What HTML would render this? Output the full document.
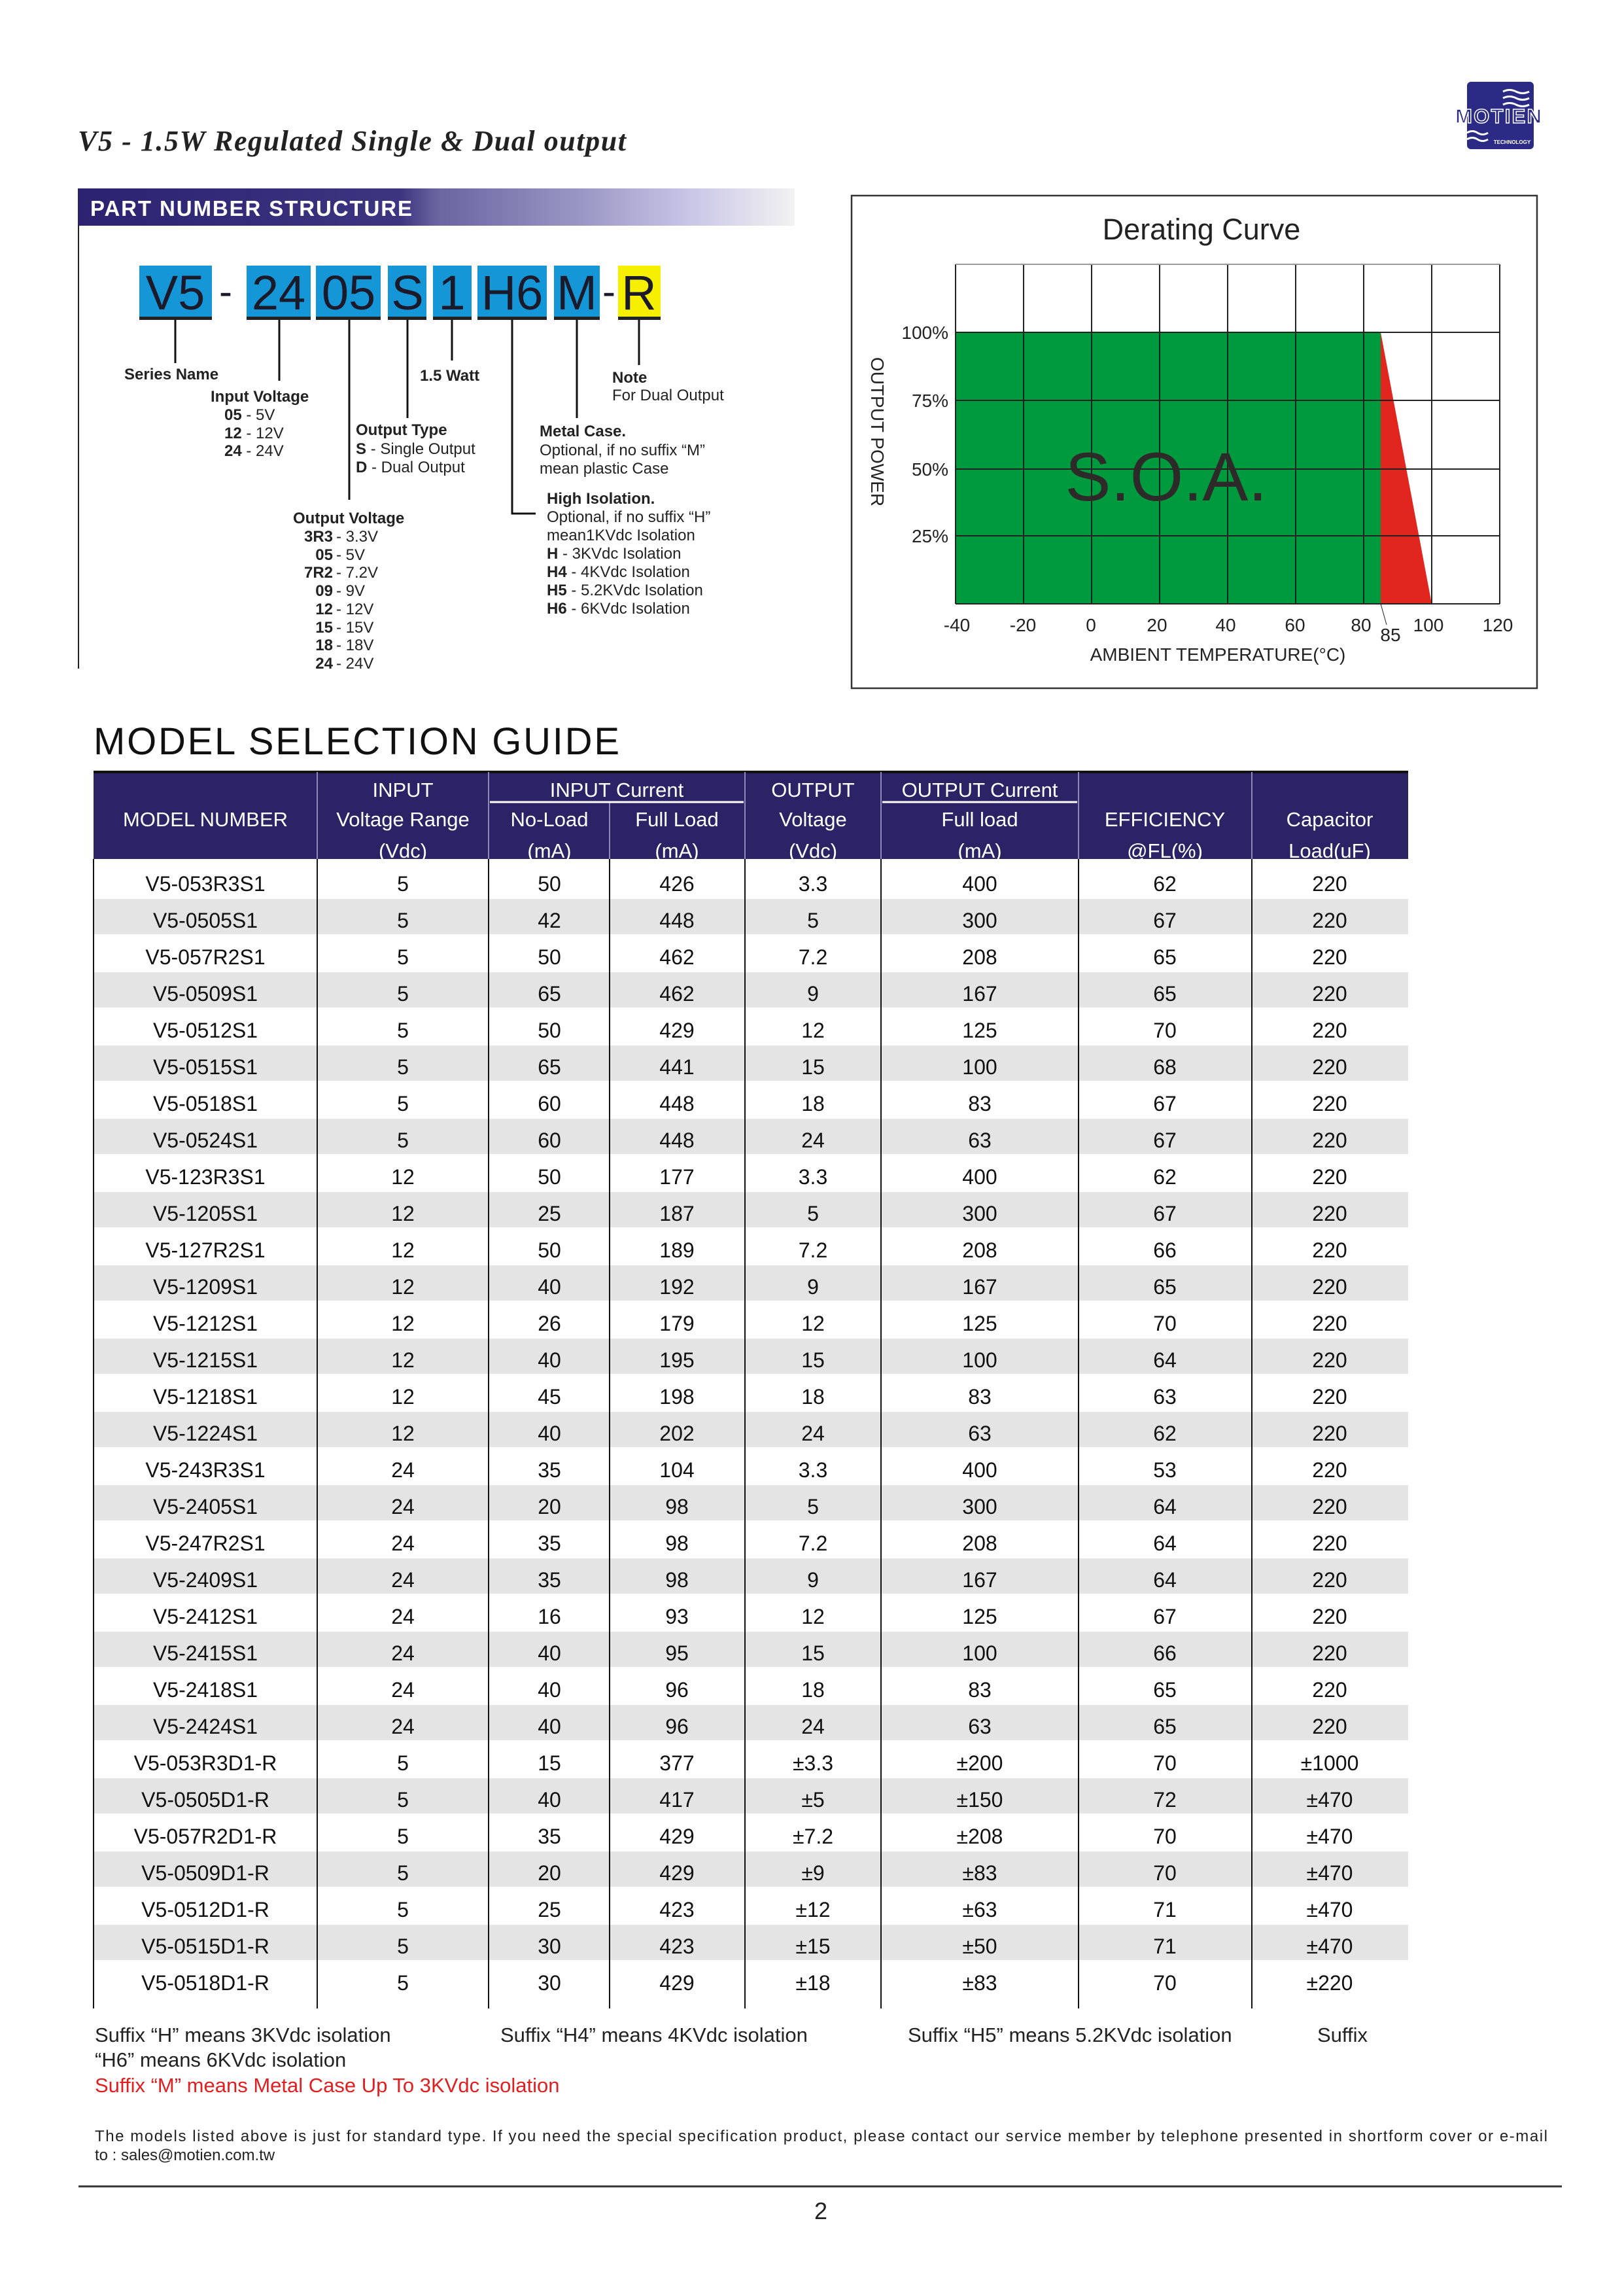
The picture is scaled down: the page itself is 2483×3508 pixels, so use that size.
<!DOCTYPE html>
<html><head><meta charset="utf-8"><style>
html,body{margin:0;padding:0;background:#fff;}
svg{display:block;}
text{font-family:"Liberation Sans",Arial,sans-serif;}
</style></head><body>
<svg width="2483" height="3508" viewBox="0 0 2483 3508" xmlns="http://www.w3.org/2000/svg">
<defs>
<linearGradient id="bn" x1="0" x2="1" y1="0" y2="0">
<stop offset="0" stop-color="#2b2370"/><stop offset="0.45" stop-color="#3d3580"/>
<stop offset="0.5" stop-color="#6a64a0"/><stop offset="0.7" stop-color="#9a96c4"/>
<stop offset="0.85" stop-color="#c8c4e6"/><stop offset="1" stop-color="#f2f2f2"/>
</linearGradient>
</defs>
<!-- title -->
<text x="119" y="230" style="font-family:'Liberation Serif',serif;font-style:italic;font-weight:bold" font-size="44" textLength="838" fill="#222">V5 - 1.5W Regulated Single &amp; Dual output</text>
<!-- logo -->
<rect x="2243" y="125" width="102" height="103" rx="6" fill="#2b2a85"/>
<path d="M2298 140 q10 -5 20 0 t20 0 M2298 150 q10 -5 20 0 t20 0 M2298 160 q10 -5 20 0 t20 0 M2243 203 q8 -5 16 0 t16 0 M2243 213 q8 -5 16 0 t16 0" stroke="#fff" stroke-width="3" fill="none"/>
<text x="2291" y="188" text-anchor="middle" font-weight="bold" font-size="31" fill="#2b2a85" stroke="#fff" stroke-width="1.5" textLength="132">MOTIEN</text>
<text x="2312" y="220" text-anchor="middle" font-weight="bold" font-size="8" fill="#fff">TECHNOLOGY</text>

<!-- banner -->
<rect x="119" y="288" width="1096" height="57" fill="url(#bn)"/>
<text x="138" y="330" font-weight="bold" font-size="33" fill="#fff" textLength="492">PART NUMBER STRUCTURE</text>
<line x1="120" y1="345" x2="120" y2="1022" stroke="#222" stroke-width="2"/>

<!-- part boxes -->
<g font-size="74" fill="#1a1a2a" text-anchor="middle">
<rect x="213" y="406" width="111" height="82" fill="#1596d6"/><rect x="213" y="484" width="111" height="5" fill="#222"/><text x="268" y="473">V5</text>
<rect x="377" y="406" width="98" height="82" fill="#1596d6"/><rect x="377" y="484" width="98" height="5" fill="#222"/><text x="426" y="473">24</text>
<rect x="483" y="406" width="99" height="82" fill="#1596d6"/><rect x="483" y="484" width="99" height="5" fill="#222"/><text x="533" y="473">05</text>
<rect x="593" y="406" width="59" height="82" fill="#1596d6"/><rect x="593" y="484" width="59" height="5" fill="#222"/><text x="623" y="473">S</text>
<rect x="662" y="406" width="59" height="82" fill="#1596d6"/><rect x="662" y="484" width="59" height="5" fill="#222"/><text x="691" y="473">1</text>
<rect x="730" y="406" width="106" height="82" fill="#1596d6"/><rect x="730" y="484" width="106" height="5" fill="#222"/><text x="783" y="473">H6</text>
<rect x="847" y="406" width="70" height="82" fill="#1596d6"/><rect x="847" y="484" width="70" height="5" fill="#222"/><text x="882" y="473">M</text>
<rect x="945" y="406" width="65" height="82" fill="#f6f000"/><rect x="945" y="484" width="65" height="5" fill="#222"/><text x="977" y="473">R</text>
<text x="345" y="466" font-size="60">-</text>
<text x="931" y="466" font-size="60">-</text>
</g>
<g stroke="#111" stroke-width="3" fill="none">
<line x1="268" y1="489" x2="268" y2="555"/>
<line x1="427" y1="489" x2="427" y2="582"/>
<line x1="534" y1="489" x2="534" y2="764"/>
<line x1="623" y1="489" x2="623" y2="639"/>
<line x1="691" y1="489" x2="691" y2="551"/>
<polyline points="783,489 783,785 819,785"/>
<line x1="882" y1="489" x2="882" y2="639"/>
<line x1="977" y1="489" x2="977" y2="558"/>
</g>
<g font-size="24" fill="#222">
<text x="190" y="580" font-weight="bold">Series Name</text>
<text x="322" y="614" font-weight="bold">Input Voltage</text>
<text x="343" y="642"><tspan font-weight="bold">05</tspan> - 5V</text>
<text x="343" y="670"><tspan font-weight="bold">12</tspan> - 12V</text>
<text x="343" y="697"><tspan font-weight="bold">24</tspan> - 24V</text>
<text x="642" y="582" font-weight="bold">1.5 Watt</text>
<text x="544" y="665" font-weight="bold">Output Type</text>
<text x="544" y="694"><tspan font-weight="bold">S</tspan> - Single Output</text>
<text x="544" y="722"><tspan font-weight="bold">D</tspan> - Dual Output</text>
<text x="936" y="585" font-weight="bold">Note</text>
<text x="936" y="612">For Dual Output</text>
<text x="825" y="667" font-weight="bold">Metal Case.</text>
<text x="825" y="696">Optional, if no suffix “M”</text>
<text x="825" y="724">mean plastic Case</text>
<text x="836" y="770" font-weight="bold">High Isolation.</text>
<text x="836" y="798">Optional,  if no suffix “H”</text>
<text x="836" y="826">mean1KVdc Isolation</text>
<text x="836" y="854"><tspan font-weight="bold">H</tspan>   - 3KVdc Isolation</text>
<text x="836" y="882"><tspan font-weight="bold">H4</tspan> - 4KVdc Isolation</text>
<text x="836" y="910"><tspan font-weight="bold">H5</tspan> - 5.2KVdc Isolation</text>
<text x="836" y="938"><tspan font-weight="bold">H6</tspan> - 6KVdc Isolation</text>
<text x="448" y="800" font-weight="bold">Output Voltage</text>
<g font-weight="bold" text-anchor="end">
<text x="509" y="828">3R3</text><text x="509" y="856">05</text><text x="509" y="883">7R2</text><text x="509" y="911">09</text>
<text x="509" y="939">12</text><text x="509" y="967">15</text><text x="509" y="994">18</text><text x="509" y="1022">24</text>
</g>
<text x="514" y="828">- 3.3V</text><text x="514" y="856">- 5V</text><text x="514" y="883">- 7.2V</text><text x="514" y="911">- 9V</text>
<text x="514" y="939">- 12V</text><text x="514" y="967">- 15V</text><text x="514" y="994">- 18V</text><text x="514" y="1022">- 24V</text>
</g>

<!-- derating -->
<rect x="1302" y="299" width="1048" height="753" fill="none" stroke="#333" stroke-width="2.5"/>
<text x="1837" y="366" text-anchor="middle" font-size="45" fill="#222">Derating Curve</text>
<rect x="1461" y="404" width="832" height="519" fill="#fff"/>
<polygon points="1461,508 2111,508 2111,923 1461,923" fill="#009a3e"/>
<polygon points="2111,508 2189,923 2111,923" fill="#e0261e"/>
<g stroke="#222" stroke-width="2">
<line x1="1461" y1="404" x2="1461" y2="923"/><line x1="1565" y1="404" x2="1565" y2="923"/>
<line x1="1669" y1="404" x2="1669" y2="923"/><line x1="1773" y1="404" x2="1773" y2="923"/>
<line x1="1877" y1="404" x2="1877" y2="923"/><line x1="1981" y1="404" x2="1981" y2="923"/>
<line x1="2085" y1="404" x2="2085" y2="923"/><line x1="2189" y1="404" x2="2189" y2="923"/>
<line x1="2293" y1="404" x2="2293" y2="923"/>
<line x1="1461" y1="404" x2="2293" y2="404" stroke="#999"/>
<line x1="1461" y1="508" x2="2293" y2="508"/><line x1="1461" y1="612" x2="2293" y2="612"/>
<line x1="1461" y1="717" x2="2293" y2="717"/><line x1="1461" y1="819" x2="2293" y2="819"/>
<line x1="1461" y1="923" x2="2293" y2="923"/>
<line x1="2111" y1="923" x2="2120" y2="955" stroke-width="1"/>
</g>
<text x="1783" y="765" text-anchor="middle" font-size="105" fill="#2e2a2a">S.O.A.</text>
<g font-size="28" fill="#222" text-anchor="end">
<text x="1450" y="518">100%</text><text x="1450" y="622">75%</text><text x="1450" y="727">50%</text><text x="1450" y="829">25%</text>
</g>
<g font-size="28" fill="#222" text-anchor="middle">
<text x="1463" y="965">-40</text><text x="1564" y="965">-20</text><text x="1668" y="965">0</text><text x="1769" y="965">20</text>
<text x="1874" y="965">40</text><text x="1980" y="965">60</text><text x="2081" y="965">80</text><text x="2184" y="965">100</text>
<text x="2290" y="965">120</text><text x="2126" y="980">85</text>
<text x="1862" y="1010">AMBIENT TEMPERATURE(°C)</text>
</g>
<text transform="translate(1332,660) rotate(90)" text-anchor="middle" font-size="28" fill="#222">OUTPUT POWER</text>

<!-- model selection -->
<text x="143" y="1153" font-size="58" fill="#111" textLength="804">MODEL SELECTION GUIDE</text>
<rect x="143" y="1180" width="2010" height="133" fill="#2c2366"/>
<rect x="143" y="1178" width="2010" height="4" fill="#111"/>
<g stroke="#8e88b8" stroke-width="2">
<line x1="485" y1="1180" x2="485" y2="1313"/><line x1="747" y1="1180" x2="747" y2="1313"/>
<line x1="932" y1="1226" x2="932" y2="1313"/><line x1="1139" y1="1180" x2="1139" y2="1313"/>
<line x1="1347" y1="1180" x2="1347" y2="1313"/><line x1="1649" y1="1180" x2="1649" y2="1313"/>
<line x1="1914" y1="1180" x2="1914" y2="1313"/>
</g>
<g stroke="#fff" stroke-width="3"><line x1="749" y1="1226" x2="1137" y2="1226"/><line x1="1349" y1="1226" x2="1647" y2="1226"/></g>
<g font-size="31" fill="#fff" text-anchor="middle">
<text x="314" y="1263">MODEL NUMBER</text>
<text x="616" y="1218">INPUT</text><text x="616" y="1263">Voltage Range</text><text x="616" y="1311">(Vdc)</text>
<text x="943" y="1218">INPUT Current</text>
<text x="840" y="1263">No-Load</text><text x="840" y="1311">(mA)</text>
<text x="1035" y="1263">Full Load</text><text x="1035" y="1311">(mA)</text>
<text x="1243" y="1218">OUTPUT</text><text x="1243" y="1263">Voltage</text><text x="1243" y="1311">(Vdc)</text>
<text x="1498" y="1218">OUTPUT Current</text><text x="1498" y="1263">Full load</text><text x="1498" y="1311">(mA)</text>
<text x="1781" y="1263">EFFICIENCY</text><text x="1781" y="1311">@FL(%)</text>
<text x="2033" y="1263">Capacitor</text><text x="2033" y="1311">Load(uF)</text>
</g>
<g fill="#e4e4e4">
<rect x="143" y="1374" width="2010" height="54"/><rect x="143" y="1486" width="2010" height="54"/>
<rect x="143" y="1598" width="2010" height="54"/><rect x="143" y="1710" width="2010" height="54"/>
<rect x="143" y="1822" width="2010" height="54"/><rect x="143" y="1934" width="2010" height="54"/>
<rect x="143" y="2046" width="2010" height="54"/><rect x="143" y="2158" width="2010" height="54"/>
<rect x="143" y="2270" width="2010" height="54"/><rect x="143" y="2382" width="2010" height="54"/>
<rect x="143" y="2494" width="2010" height="54"/><rect x="143" y="2606" width="2010" height="54"/>
<rect x="143" y="2718" width="2010" height="54"/><rect x="143" y="2830" width="2010" height="54"/>
<rect x="143" y="2942" width="2010" height="54"/>
</g>
<g stroke="#111" stroke-width="2">
<line x1="143" y1="1313" x2="143" y2="3070"/><line x1="485" y1="1313" x2="485" y2="3070"/>
<line x1="747" y1="1313" x2="747" y2="3070"/><line x1="932" y1="1313" x2="932" y2="3070"/>
<line x1="1139" y1="1313" x2="1139" y2="3070"/><line x1="1347" y1="1313" x2="1347" y2="3070"/>
<line x1="1649" y1="1313" x2="1649" y2="3070"/><line x1="1914" y1="1313" x2="1914" y2="3070"/>
</g>
<g font-size="32" fill="#111" text-anchor="middle">
<g transform="translate(0,1362)"><text x="314">V5-053R3S1</text><text x="616">5</text><text x="840">50</text><text x="1035">426</text><text x="1243">3.3</text><text x="1498">400</text><text x="1781">62</text><text x="2033">220</text></g>
<g transform="translate(0,1418)"><text x="314">V5-0505S1</text><text x="616">5</text><text x="840">42</text><text x="1035">448</text><text x="1243">5</text><text x="1498">300</text><text x="1781">67</text><text x="2033">220</text></g>
<g transform="translate(0,1474)"><text x="314">V5-057R2S1</text><text x="616">5</text><text x="840">50</text><text x="1035">462</text><text x="1243">7.2</text><text x="1498">208</text><text x="1781">65</text><text x="2033">220</text></g>
<g transform="translate(0,1530)"><text x="314">V5-0509S1</text><text x="616">5</text><text x="840">65</text><text x="1035">462</text><text x="1243">9</text><text x="1498">167</text><text x="1781">65</text><text x="2033">220</text></g>
<g transform="translate(0,1586)"><text x="314">V5-0512S1</text><text x="616">5</text><text x="840">50</text><text x="1035">429</text><text x="1243">12</text><text x="1498">125</text><text x="1781">70</text><text x="2033">220</text></g>
<g transform="translate(0,1642)"><text x="314">V5-0515S1</text><text x="616">5</text><text x="840">65</text><text x="1035">441</text><text x="1243">15</text><text x="1498">100</text><text x="1781">68</text><text x="2033">220</text></g>
<g transform="translate(0,1698)"><text x="314">V5-0518S1</text><text x="616">5</text><text x="840">60</text><text x="1035">448</text><text x="1243">18</text><text x="1498">83</text><text x="1781">67</text><text x="2033">220</text></g>
<g transform="translate(0,1754)"><text x="314">V5-0524S1</text><text x="616">5</text><text x="840">60</text><text x="1035">448</text><text x="1243">24</text><text x="1498">63</text><text x="1781">67</text><text x="2033">220</text></g>
<g transform="translate(0,1810)"><text x="314">V5-123R3S1</text><text x="616">12</text><text x="840">50</text><text x="1035">177</text><text x="1243">3.3</text><text x="1498">400</text><text x="1781">62</text><text x="2033">220</text></g>
<g transform="translate(0,1866)"><text x="314">V5-1205S1</text><text x="616">12</text><text x="840">25</text><text x="1035">187</text><text x="1243">5</text><text x="1498">300</text><text x="1781">67</text><text x="2033">220</text></g>
<g transform="translate(0,1922)"><text x="314">V5-127R2S1</text><text x="616">12</text><text x="840">50</text><text x="1035">189</text><text x="1243">7.2</text><text x="1498">208</text><text x="1781">66</text><text x="2033">220</text></g>
<g transform="translate(0,1978)"><text x="314">V5-1209S1</text><text x="616">12</text><text x="840">40</text><text x="1035">192</text><text x="1243">9</text><text x="1498">167</text><text x="1781">65</text><text x="2033">220</text></g>
<g transform="translate(0,2034)"><text x="314">V5-1212S1</text><text x="616">12</text><text x="840">26</text><text x="1035">179</text><text x="1243">12</text><text x="1498">125</text><text x="1781">70</text><text x="2033">220</text></g>
<g transform="translate(0,2090)"><text x="314">V5-1215S1</text><text x="616">12</text><text x="840">40</text><text x="1035">195</text><text x="1243">15</text><text x="1498">100</text><text x="1781">64</text><text x="2033">220</text></g>
<g transform="translate(0,2146)"><text x="314">V5-1218S1</text><text x="616">12</text><text x="840">45</text><text x="1035">198</text><text x="1243">18</text><text x="1498">83</text><text x="1781">63</text><text x="2033">220</text></g>
<g transform="translate(0,2202)"><text x="314">V5-1224S1</text><text x="616">12</text><text x="840">40</text><text x="1035">202</text><text x="1243">24</text><text x="1498">63</text><text x="1781">62</text><text x="2033">220</text></g>
<g transform="translate(0,2258)"><text x="314">V5-243R3S1</text><text x="616">24</text><text x="840">35</text><text x="1035">104</text><text x="1243">3.3</text><text x="1498">400</text><text x="1781">53</text><text x="2033">220</text></g>
<g transform="translate(0,2314)"><text x="314">V5-2405S1</text><text x="616">24</text><text x="840">20</text><text x="1035">98</text><text x="1243">5</text><text x="1498">300</text><text x="1781">64</text><text x="2033">220</text></g>
<g transform="translate(0,2370)"><text x="314">V5-247R2S1</text><text x="616">24</text><text x="840">35</text><text x="1035">98</text><text x="1243">7.2</text><text x="1498">208</text><text x="1781">64</text><text x="2033">220</text></g>
<g transform="translate(0,2426)"><text x="314">V5-2409S1</text><text x="616">24</text><text x="840">35</text><text x="1035">98</text><text x="1243">9</text><text x="1498">167</text><text x="1781">64</text><text x="2033">220</text></g>
<g transform="translate(0,2482)"><text x="314">V5-2412S1</text><text x="616">24</text><text x="840">16</text><text x="1035">93</text><text x="1243">12</text><text x="1498">125</text><text x="1781">67</text><text x="2033">220</text></g>
<g transform="translate(0,2538)"><text x="314">V5-2415S1</text><text x="616">24</text><text x="840">40</text><text x="1035">95</text><text x="1243">15</text><text x="1498">100</text><text x="1781">66</text><text x="2033">220</text></g>
<g transform="translate(0,2594)"><text x="314">V5-2418S1</text><text x="616">24</text><text x="840">40</text><text x="1035">96</text><text x="1243">18</text><text x="1498">83</text><text x="1781">65</text><text x="2033">220</text></g>
<g transform="translate(0,2650)"><text x="314">V5-2424S1</text><text x="616">24</text><text x="840">40</text><text x="1035">96</text><text x="1243">24</text><text x="1498">63</text><text x="1781">65</text><text x="2033">220</text></g>
<g transform="translate(0,2706)"><text x="314">V5-053R3D1-R</text><text x="616">5</text><text x="840">15</text><text x="1035">377</text><text x="1243">±3.3</text><text x="1498">±200</text><text x="1781">70</text><text x="2033">±1000</text></g>
<g transform="translate(0,2762)"><text x="314">V5-0505D1-R</text><text x="616">5</text><text x="840">40</text><text x="1035">417</text><text x="1243">±5</text><text x="1498">±150</text><text x="1781">72</text><text x="2033">±470</text></g>
<g transform="translate(0,2818)"><text x="314">V5-057R2D1-R</text><text x="616">5</text><text x="840">35</text><text x="1035">429</text><text x="1243">±7.2</text><text x="1498">±208</text><text x="1781">70</text><text x="2033">±470</text></g>
<g transform="translate(0,2874)"><text x="314">V5-0509D1-R</text><text x="616">5</text><text x="840">20</text><text x="1035">429</text><text x="1243">±9</text><text x="1498">±83</text><text x="1781">70</text><text x="2033">±470</text></g>
<g transform="translate(0,2930)"><text x="314">V5-0512D1-R</text><text x="616">5</text><text x="840">25</text><text x="1035">423</text><text x="1243">±12</text><text x="1498">±63</text><text x="1781">71</text><text x="2033">±470</text></g>
<g transform="translate(0,2986)"><text x="314">V5-0515D1-R</text><text x="616">5</text><text x="840">30</text><text x="1035">423</text><text x="1243">±15</text><text x="1498">±50</text><text x="1781">71</text><text x="2033">±470</text></g>
<g transform="translate(0,3042)"><text x="314">V5-0518D1-R</text><text x="616">5</text><text x="840">30</text><text x="1035">429</text><text x="1243">±18</text><text x="1498">±83</text><text x="1781">70</text><text x="2033">±220</text></g>
</g>

<!-- footer -->
<g font-size="31" fill="#222">
<text x="145" y="3121">Suffix “H” means 3KVdc isolation</text>
<text x="765" y="3121">Suffix “H4” means 4KVdc isolation</text>
<text x="1388" y="3121">Suffix “H5” means 5.2KVdc isolation</text>
<text x="2014" y="3121">Suffix</text>
<text x="145" y="3159">“H6” means 6KVdc isolation</text>
<text x="145" y="3198" fill="#e02020">Suffix “M” means Metal Case Up To 3KVdc isolation</text>
</g>
<g font-size="24" fill="#222">
<text x="145" y="3273" textLength="2221">The models listed above is just for standard type. If you need the special specification product, please contact our service member by telephone presented in shortform cover or e-mail</text>
<text x="145" y="3302">to : sales@motien.com.tw</text>
</g>
<line x1="120" y1="3342" x2="2388" y2="3342" stroke="#333" stroke-width="3"/>
<text x="1255" y="3392" text-anchor="middle" font-size="36" fill="#222">2</text>
</svg>
</body></html>
